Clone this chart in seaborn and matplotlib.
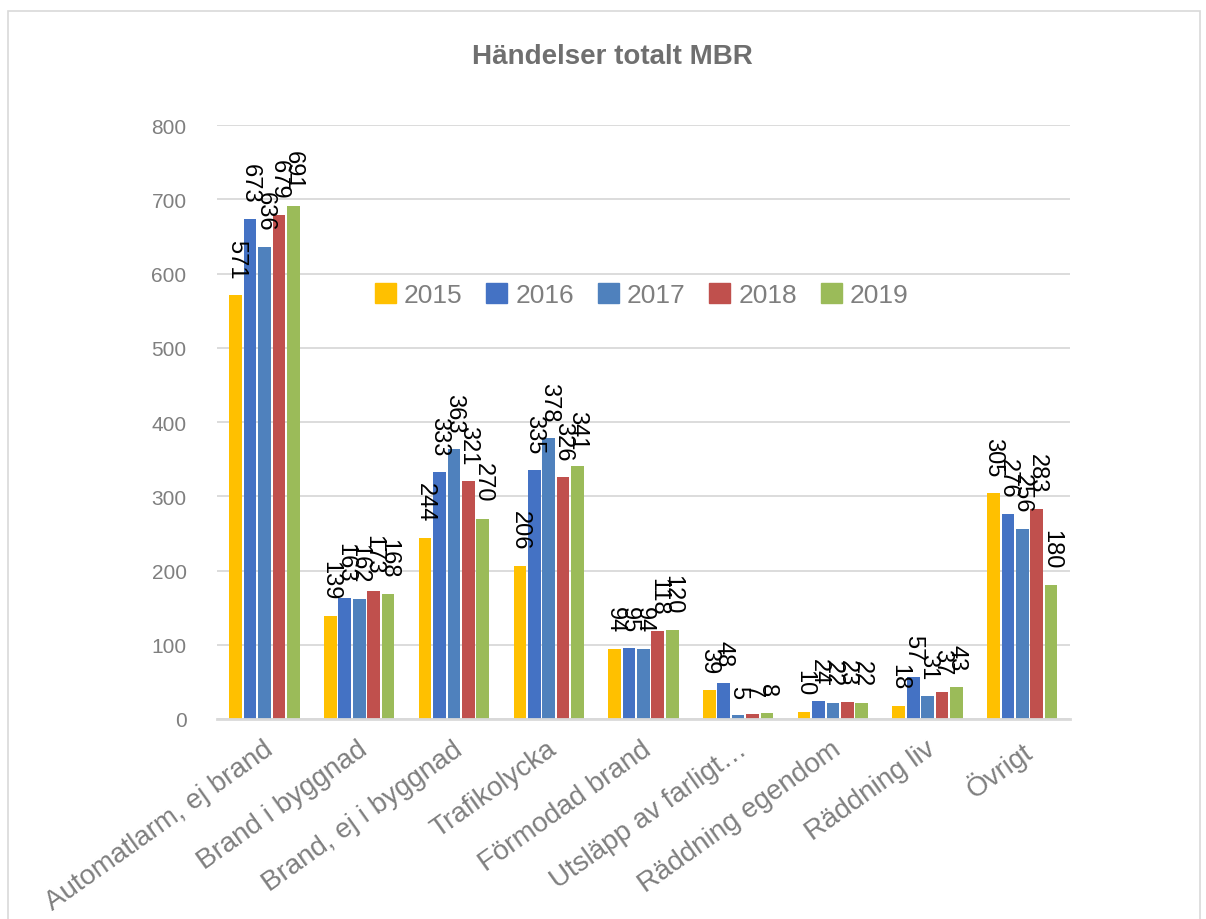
import matplotlib
matplotlib.use("Agg")
import matplotlib.pyplot as plt
import matplotlib.patches as mpatches
import matplotlib.transforms as mtransforms
import seaborn as sns
import pandas as pd

categories = ["Automatlarm, ej brand", "Brand i byggnad", "Brand, ej i byggnad",
              "Trafikolycka", "Förmodad brand", "Utsläpp av farligt…",
              "Räddning egendom", "Räddning liv", "Övrigt"]
years = ["2015", "2016", "2017", "2018", "2019"]
v2015 = [571, 139, 244, 206, 94, 39, 10, 18, 305]
v2016 = [673, 163, 333, 335, 95, 48, 24, 57, 276]
v2017 = [636, 162, 363, 378, 94, 5, 22, 31, 256]
v2018 = [679, 173, 321, 326, 118, 7, 23, 37, 283]
v2019 = [691, 168, 270, 341, 120, 8, 22, 43, 180]
colors = ["#FFC000", "#4472C4", "#4F81BD", "#C0504D", "#9BBB59"]

series = [v2015, v2016, v2017, v2018, v2019]
rows = []
for y, vals in zip(years, series):
    for c, v in zip(categories, vals):
        rows.append({"cat": c, "year": y, "val": v})
df = pd.DataFrame(rows)

sns.set_theme(style="white")
plt.rcParams["font.family"] = ["Liberation Sans", "DejaVu Sans"]

fig = plt.figure(figsize=(12.06, 9.2), dpi=100)
ax = fig.add_axes([0.180, 0.2174, 0.707, 0.6456])

sns.barplot(data=df, x="cat", y="val", hue="year", order=categories,
            hue_order=years, palette=colors, width=0.76, gap=0.12,
            saturation=1, ax=ax, edgecolor="none")

for cont in ax.containers:
    ax.bar_label(cont, rotation=270, padding=12, fontsize=17, color="black")

ax.set_ylim(0, 800)
ax.set_xlim(-0.5, 8.5)
ax.set_yticks(range(0, 801, 100))
ax.grid(axis="y", color="#D9D9D9", linewidth=1.3)
ax.set_axisbelow(True)
for s in ["top", "right", "left"]:
    ax.spines[s].set_visible(False)
ax.spines["bottom"].set_color("#D9D9D9")
ax.spines["bottom"].set_linewidth(2)
ax.set_xlabel("")
ax.set_ylabel("")
ax.tick_params(axis="y", labelsize=15, labelcolor="#7F7F7F", length=0, pad=22)
ax.tick_params(axis="x", labelsize=20, labelcolor="#7F7F7F", length=0, pad=12)
offset = mtransforms.ScaledTranslation(-2 / 100, 0, fig.dpi_scale_trans)
for lab in ax.get_xticklabels():
    lab.set_rotation(35.5)
    lab.set_ha("right")
    lab.set_rotation_mode("anchor")
    lab.set_transform(lab.get_transform() + offset)

ax.get_legend().remove()
handles = [mpatches.Patch(color=c) for c in colors]
ax.legend(handles, years, loc="center", bbox_to_anchor=(0.498, 0.714), ncol=5,
          frameon=False, fontsize=19, labelcolor="#7F7F7F",
          handlelength=0.8, handleheight=0.8, handletextpad=0.3,
          columnspacing=0.9)

fig.text(0.508, 0.938, "Händelser totalt MBR", ha="center", va="center",
         fontsize=20, fontweight="bold", color="#6F6F6F")

fig.patches.append(mpatches.Rectangle((0.007, -0.01), 0.988, 0.997,
                                      transform=fig.transFigure, fill=False,
                                      edgecolor="#D9D9D9", linewidth=1.2))

fig.savefig("out.png", dpi=100)
